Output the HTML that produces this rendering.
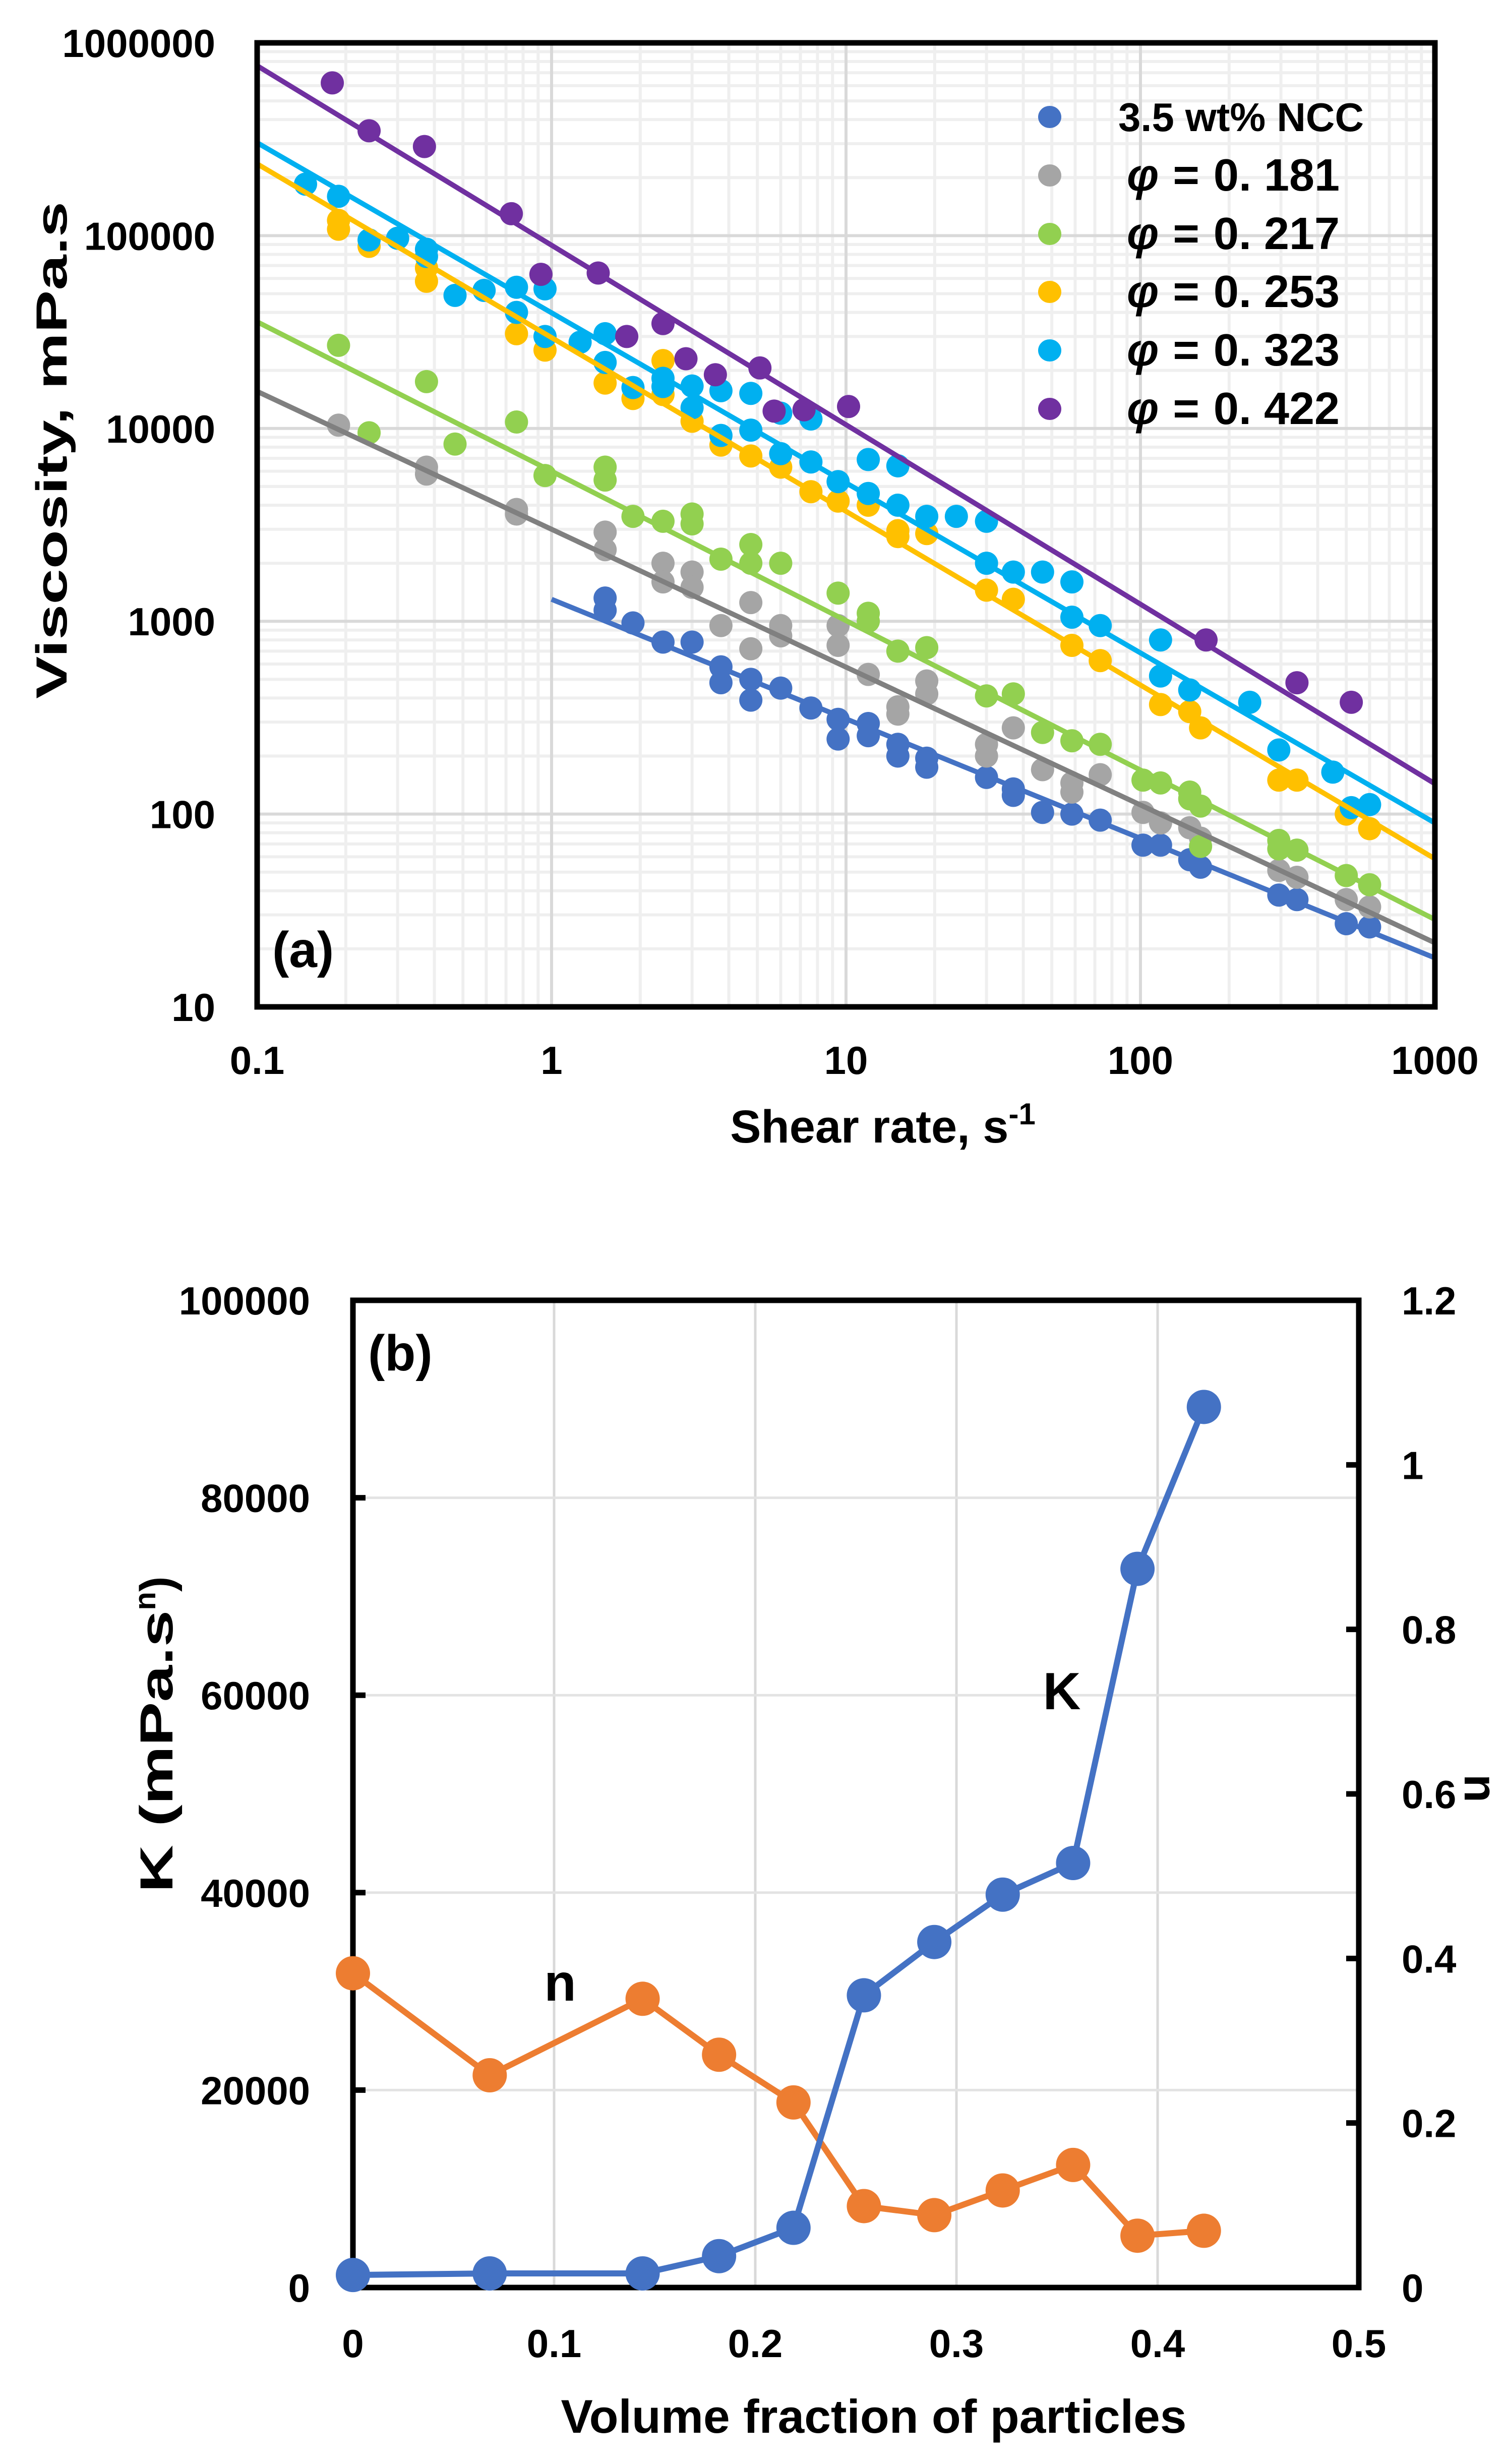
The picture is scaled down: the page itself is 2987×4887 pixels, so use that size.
<!DOCTYPE html>
<html><head><meta charset="utf-8"><style>
html,body{margin:0;padding:0;background:#fff}
svg{display:block}
text{font-family:"Liberation Sans",Arial,sans-serif;font-weight:bold;fill:#000}
</style></head><body>
<svg id="svg" width="2987" height="4887" viewBox="0 0 2987 4887" xmlns="http://www.w3.org/2000/svg">
<g id="chartA"></g>
<g id="chartB"></g>
</svg>
<script>
// ---------- Chart (a) data ----------
const seriesNames = ["3.5 wt% NCC","0. 181","0. 217","0. 253","0. 323","0. 422"];
const seriesColors = ["#4472c4","#a5a5a5","#92d050","#ffc000","#00b0f0","#7030a0"];
const lineColors = ["#4472c4","#808080","#92d050","#ffc000","#00b0f0","#7030a0"];
const fitK = [1300, 3000, 6000, 29600, 39800, 89200];
const fitN = [0.38, 0.285, 0.225, 0.099, 0.118, 0.069];
const fitStart = [1, 0.1, 0.1, 0.1, 0.1, 0.1];
const xTicksA = [0.1, 1, 10, 100, 1000];
const xTickLabelsA = ["0.1","1","10","100","1000"];
const yTicksA = [10, 100, 1000, 10000, 100000, 1000000];
const yTickLabelsA = ["10","100","1000","10000","100000","1000000"];
const ncc = [[1.52,1320],[1.52,1140],[1.89,980],[2.39,780],[3.0,780],[3.76,580],[3.76,480],[4.75,500],[4.75,390],[6.0,450],[7.6,355],[9.4,310],[9.4,245],[11.9,295],[11.9,255],[15,230],[15,200],[18.8,195],[18.8,175],[30,155],[37,135],[37,125],[46.5,102],[58.5,100],[73,93],[102,69],[117,69],[147,58],[160,53],[295,38],[340,36],[500,27],[600,26]];
const phi181 = [[0.189,10400],[0.376,6300],[0.376,5800],[0.76,3800],[0.76,3600],[1.52,2900],[1.52,2350],[2.39,2000],[2.39,1600],[3.0,1800],[3.0,1500],[3.76,950],[4.75,1250],[4.75,720],[6.0,950],[6.0,840],[9.4,950],[9.4,750],[11.9,530],[15,360],[15,330],[18.8,490],[18.8,420],[30,230],[30,200],[37,280],[46.5,170],[58.5,145],[58.5,130],[73,160],[102,102],[117,90],[147,85],[160,75],[295,51],[340,47],[500,36],[600,33]];
const phi217 = [[0.189,27000],[0.24,9500],[0.376,17500],[0.47,8300],[0.76,10800],[0.95,5700],[1.52,6300],[1.52,5400],[1.89,3500],[2.39,3300],[3.0,3600],[3.0,3200],[3.76,2100],[4.75,2500],[4.75,2000],[6.0,2000],[9.4,1400],[11.9,1100],[11.9,1000],[15,700],[18.8,730],[30,410],[37,420],[46.5,265],[58.5,240],[73,230],[102,150],[117,145],[147,130],[147,120],[160,110],[160,68],[295,73],[295,66],[340,65],[500,48],[600,43]];
const phi253 = [[0.189,120000],[0.189,108000],[0.24,88000],[0.376,68000],[0.376,58000],[0.76,31000],[0.95,25500],[1.52,17200],[1.89,14300],[2.39,22500],[2.39,15000],[3.0,10900],[3.76,8200],[4.75,7200],[6.0,6300],[7.6,4700],[9.4,4200],[11.9,4000],[15,2950],[15,2750],[18.8,2850],[30,1450],[37,1300],[58.5,750],[73,625],[117,370],[147,340],[160,280],[295,150],[340,150],[500,100],[600,84]];
const phi323 = [[0.146,185000],[0.189,160000],[0.24,95000],[0.30,97000],[0.376,85000],[0.376,78000],[0.47,49000],[0.59,52000],[0.76,54000],[0.76,40000],[0.95,53000],[0.95,30000],[1.25,28000],[1.52,31000],[1.52,22000],[1.89,16300],[2.39,18200],[2.39,16500],[3.0,16600],[3.0,12800],[3.76,9200],[3.76,15700],[4.75,15200],[4.75,9800],[6.0,12000],[6.0,7400],[7.6,11200],[7.6,6700],[9.4,5300],[11.9,6900],[11.9,4600],[15,6400],[15,4000],[18.8,3500],[23.7,3500],[30,3300],[30,2000],[37,1800],[46.5,1800],[58.5,1600],[58.5,1050],[73,950],[117,800],[117,520],[147,440],[235,380],[295,215],[450,165],[520,108],[600,112]];
const phi422 = [[0.18,620000],[0.24,350000],[0.37,290000],[0.73,130000],[0.92,63000],[1.44,64000],[1.8,30000],[2.39,35000],[2.86,23000],[3.6,19000],[5.1,20600],[5.7,12300],[7.2,12500],[10.2,13000],[167,800],[340,480],[520,380]];
const scatterSets = [ncc, phi181, phi217, phi253, phi323, phi422];

// ---------- Chart (b) data ----------
const phiValues = [0, 0.068, 0.144, 0.182, 0.219, 0.254, 0.289, 0.323, 0.358, 0.39, 0.423];
const kValues = [1270, 1430, 1430, 3180, 6050, 29600, 35000, 39800, 43000, 72800, 89200];
const nValues = [0.382, 0.258, 0.351, 0.283, 0.225, 0.099, 0.088, 0.118, 0.149, 0.063, 0.069];
const xTicksB = [0, 0.1, 0.2, 0.3, 0.4, 0.5];
const xTickLabelsB = ["0","0.1","0.2","0.3","0.4","0.5"];
const yTicksB = [0, 20000, 40000, 60000, 80000, 100000];
const yTickLabelsB = ["0","20000","40000","60000","80000","100000"];
const y2TicksB = [0, 0.2, 0.4, 0.6, 0.8, 1, 1.2];
const y2TickLabelsB = ["0","0.2","0.4","0.6","0.8","1","1.2"];

const NS = "http://www.w3.org/2000/svg";
function mk(parent, tag, attrs, txt){
  const e = document.createElementNS(NS, tag);
  for (const k in attrs) e.setAttribute(k, attrs[k]);
  if (txt !== undefined) e.textContent = txt;
  parent.appendChild(e);
  return e;
}

(function(){
  const g = document.getElementById('chartA');
  const L=510, R=2846, T=85, B=1997;
  const xs = v => L + (Math.log10(v) - Math.log10(0.1)) / 4 * (R - L);
  const ys = v => B - (Math.log10(v) - 1) / 5 * (B - T);
  const grid = mk(g,'g',{});
  
  
  for (let d=-1; d<3; d++) for (let m=2; m<10; m++){
    const x = xs(m*Math.pow(10,d));
    mk(grid,'line',{x1:x,x2:x,y1:T,y2:B,stroke:'#efefef','stroke-width':6});
  }
  for (let d=1; d<6; d++) for (let m=2; m<10; m++){
    const y = ys(m*Math.pow(10,d));
    mk(grid,'line',{x1:L,x2:R,y1:y,y2:y,stroke:'#efefef','stroke-width':6});
  }
  xTicksA.forEach(v=>{ const x=xs(v); mk(grid,'line',{x1:x,x2:x,y1:T,y2:B,stroke:'#d9d9d9','stroke-width':6}); });
  yTicksA.forEach(v=>{ const y=ys(v); mk(grid,'line',{x1:L,x2:R,y1:y,y2:y,stroke:'#d9d9d9','stroke-width':6}); });

  scatterSets.forEach((set,i)=>{
    const sg = mk(g,'g',{fill:seriesColors[i]});
    
    
    set.forEach(p=>{
      const c = mk(sg,'ellipse',{cx:xs(p[0]),cy:ys(p[1]),rx:23,ry:23});
      
      
    });
  });
  fitK.forEach((K,i)=>{
    const x0=fitStart[i], x1=1000;
    const l = mk(g,'line',{x1:xs(x0),y1:ys(K*Math.pow(x0,fitN[i]-1)),x2:xs(x1),y2:ys(K*Math.pow(x1,fitN[i]-1)),stroke:lineColors[i],'stroke-width':10});
    
    
  });
  const fr = mk(g,'rect',{x:L,y:T,width:R-L,height:B-T,fill:'none',stroke:'#000','stroke-width':11});
  
  

  xTicksA.forEach((v,i)=>{
    const t = mk(g,'text',{x:xs(v),y:2130,'font-size':78,'text-anchor':'middle'},xTickLabelsA[i]);
    
    
  });
  yTicksA.forEach((v,i)=>{
    const t = mk(g,'text',{x:427,y:ys(v)+28,'font-size':78,'text-anchor':'end'},yTickLabelsA[i]);
    
    
  });
  const xt = mk(g,'text',{x:1751,y:2266,'font-size':92,'text-anchor':'middle'});
  
  
  mk(xt,'tspan',{},'Shear rate, s');
  mk(xt,'tspan',{'font-size':60,dy:-36},'-1');
  const yt = mk(g,'text',{x:0,y:0,'font-size':86,'text-anchor':'middle',transform:'translate(132,893) rotate(-90)',textLength:986,lengthAdjust:'spacingAndGlyphs'},'Viscosity, mPa.s');
  
  
  const pl = mk(g,'text',{x:540,y:1918,'font-size':100},'(a)');
  
  

  const lg = mk(g,'g',{});
  
  
  const ly = [232,348,464,579,695,811];
  seriesNames.forEach((n,i)=>{
    const e = mk(lg,'g',{});
    
    
    mk(e,'ellipse',{cx:2082,cy:ly[i],rx:23,ry:22,fill:seriesColors[i]});
    if (i===0){
      mk(e,'text',{x:2218,y:ly[i]+28,'font-size':80,textLength:487,lengthAdjust:'spacingAndGlyphs'},n);
    } else {
      const t = mk(e,'text',{x:2235,y:ly[i]+30,'font-size':90,'font-family':'"Liberation Serif",serif'});
      mk(t,'tspan',{'font-style':'italic'},'φ');
      mk(t,'tspan',{dx:28},'=');
      mk(t,'tspan',{dx:28},n);
    }
  });
})();

(function(){
  const g = document.getElementById('chartB');
  const L=700, R=2695, T=2579, B=4537;
  const xs = v => L + v/0.5*(R-L);
  const ys = v => B - v/100000*(B-T);
  const y2 = v => B - v/1.2*(B-T);
  const grid = mk(g,'g',{});
  
  
  xTicksB.forEach(v=>{ const x=xs(v); mk(grid,'line',{x1:x,x2:x,y1:T,y2:B,stroke:'#d9d9d9','stroke-width':5}); });
  yTicksB.forEach(v=>{ const y=ys(v); mk(grid,'line',{x1:L,x2:R,y1:y,y2:y,stroke:'#e3e3e3','stroke-width':5}); });
  const fr = mk(g,'rect',{x:L,y:T,width:R-L,height:B-T,fill:'none',stroke:'#000','stroke-width':11});
  
  
  yTicksB.forEach(v=>{ mk(g,'line',{x1:L,x2:L+25,y1:ys(v),y2:ys(v),stroke:'#000','stroke-width':11}); });
  y2TicksB.forEach(v=>{ mk(g,'line',{x1:R-25,x2:R,y1:y2(v),y2:y2(v),stroke:'#000','stroke-width':11}); });

  const ng = mk(g,'g',{});
  
  
  mk(ng,'polyline',{points:phiValues.map((p,i)=>xs(p)+','+y2(nValues[i])).join(' '),fill:'none',stroke:'#ed7d31','stroke-width':12});
  phiValues.forEach((p,i)=>{
    const c = mk(ng,'ellipse',{cx:xs(p),cy:y2(nValues[i]),rx:34,ry:34,fill:'#ed7d31'});
    
    
  });
  const kg = mk(g,'g',{});
  
  
  mk(kg,'polyline',{points:phiValues.map((p,i)=>xs(p)+','+ys(kValues[i])).join(' '),fill:'none',stroke:'#4472c4','stroke-width':12});
  phiValues.forEach((p,i)=>{
    const c = mk(kg,'ellipse',{cx:xs(p),cy:ys(kValues[i]),rx:34,ry:34,fill:'#4472c4'});
    
    
  });

  xTicksB.forEach((v,i)=>{
    const t = mk(g,'text',{x:xs(v),y:4675,'font-size':78,'text-anchor':'middle'},xTickLabelsB[i]);
    
    
  });
  yTicksB.forEach((v,i)=>{
    const t = mk(g,'text',{x:615,y:ys(v)+28,'font-size':78,'text-anchor':'end'},yTickLabelsB[i]);
    
    
  });
  y2TicksB.forEach((v,i)=>{
    const t = mk(g,'text',{x:2780,y:y2(v)+28,'font-size':78,'text-anchor':'start'},y2TickLabelsB[i]);
    
    
  });
  const xt = mk(g,'text',{x:1733,y:4825,'font-size':94,'text-anchor':'middle',textLength:1241,lengthAdjust:'spacingAndGlyphs'},'Volume fraction of particles');
  
  
  const yt = mk(g,'text',{x:0,y:0,'font-size':92,'text-anchor':'middle',transform:'translate(342,3440) rotate(-90)'});
  
  
  mk(yt,'tspan',{textLength:560,lengthAdjust:'spacingAndGlyphs'},'K (mPa.s');
  mk(yt,'tspan',{'font-size':60,dy:-34},'n');
  mk(yt,'tspan',{dy:34},')');
  const y2t = mk(g,'text',{x:0,y:0,'font-size':92,'text-anchor':'middle',transform:'translate(2905,3547) rotate(90)'},'n');
  
  
  const kl = mk(g,'text',{x:2106,y:3390,'font-size':104,'text-anchor':'middle',fill:'#4472c4'},'K');
  
  
  const nl = mk(g,'text',{x:1111,y:3968,'font-size':104,'text-anchor':'middle',fill:'#ed7d31'},'n');
  
  
  const pl = mk(g,'text',{x:730,y:2718,'font-size':100},'(b)');
  
  
})();
</script>
</body></html>
